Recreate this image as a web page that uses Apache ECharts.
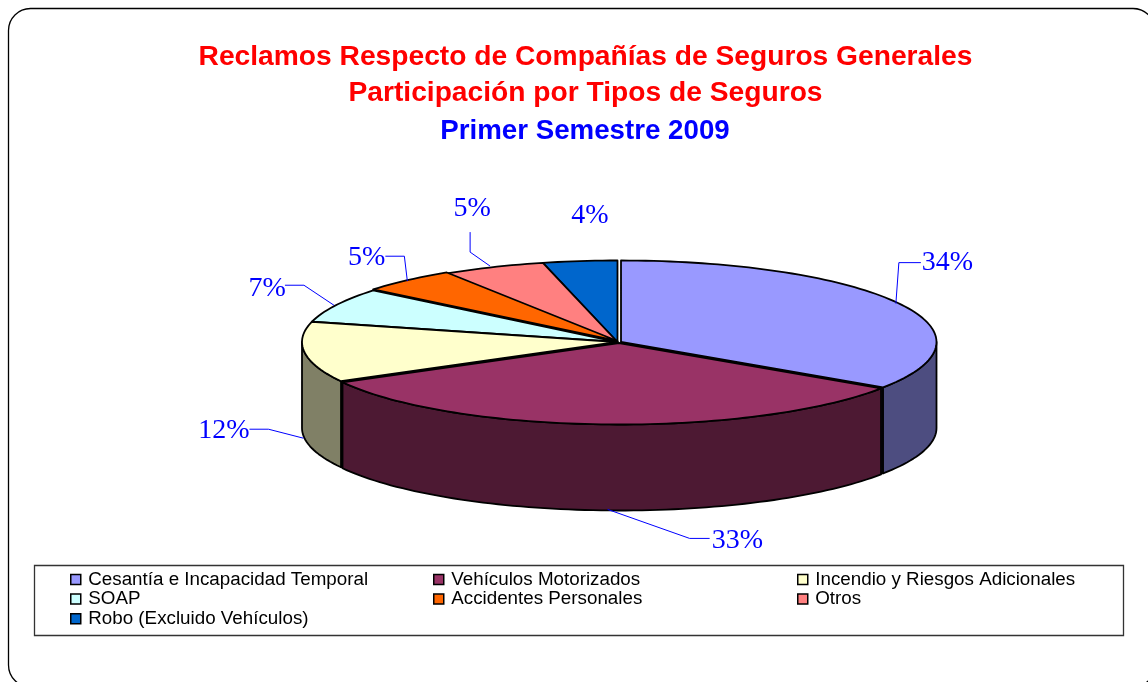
<!DOCTYPE html>
<html><head><meta charset="utf-8">
<style>html,body{margin:0;padding:0;background:#fff}#c{width:1148px;height:682px}</style>
<script src="https://cdn.jsdelivr.net/npm/echarts@6/dist/echarts.min.js"></script>
</head><body><div id="c"></div>
<script>
var categories = ['Cesantía e Incapacidad Temporal','Vehículos Motorizados','Incendio y Riesgos Adicionales','SOAP','Accidentes Personales','Otros','Robo (Excluido Vehículos)'];
var values = [34.4,32.6,12,6.9,5,5.3,3.8];
var titleLines = ['Reclamos Respecto de Compañías de Seguros Generales','Participación por Tipos de Seguros','Primer Semestre 2009'];

var topColors = ['#9999FF','#993366','#FFFFCC','#CCFFFF','#FF6600','#FF8080','#0066CC'];
var sideColors = ['#4D4D80','#4D1933','#808066','#668080','#803300','#804040','#003366'];
var drawOrder = [6,5,4,3,2,0,1];
var explode = [[3.5,0],[1.5,1],[0,0],[0,0],[0,-1],[0,0],[0,0]];
var anchorNudge = [[0,0],[4,0],[-1,0],[-2,0],[0,0],[-3,-1],[0,0]];
var leaders = [[[3,-41],[25,-41]],[[82,29],[102,29]],[[-35,-9],[-54,-9]],[[-30,-20],[-49,-20]],[[-3,-25],[-22,-25]],[[-20,-14],[-20,-34]],null];
var labelAt = [[1,0,'left','middle'],[2,2,'left','middle'],[0,1,'right','middle'],[1,3,'right','middle'],[0,1,'right','middle'],[2,-23,'center','middle'],null];
var blueLabelPos = [590,216];
var leaderOnSide = [false,true,true,false,false,false,false];
var CX=617.5, CY=342, RX=315.5, RY=81.5, DEPTH=86;

var total = values.reduce(function(a,b){return a+b;},0);
var starts = []; (function(){var s=0;values.forEach(function(v){starts.push(s);s+=v;});})();
function deg(v){return v/total*360;}
function pt(a,cx,cy){var r=a*Math.PI/180;return [cx+RX*Math.sin(r),cy-RY*Math.cos(r)];}
function arc(a0,a1,cx,cy,dy){var n=Math.max(2,Math.ceil(Math.abs(a1-a0)/1.5)),out=[];for(var i=0;i<=n;i++){var p=pt(a0+(a1-a0)*i/n,cx,cy);out.push([p[0],p[1]+(dy||0)]);}return out;}

function renderSlice(idx){
  return function(params,api){
    var val=api.value(0), a0=deg(starts[idx]), a1=a0+deg(val);
    var cx=CX+explode[idx][0], cy=CY+explode[idx][1];
    var kids=[];
    function poly(pts,fill,lw){kids.push({type:'polygon',shape:{points:pts},style:{fill:fill,stroke:'#000',lineWidth:lw,lineJoin:'round'}});}
    [a0,a1].forEach(function(a){
      var isEnd=(a===a1);
      if((isEnd&&a>90&&a<180)||(!isEnd&&a>180&&a<270)){
        var e=pt(a,cx,cy);
        poly([[cx,cy],e,[e[0],e[1]+DEPTH],[cx,cy+DEPTH]],sideColors[idx],1.6);
      }
    });
    var s0=Math.max(a0,90), s1=Math.min(a1,270);
    if(s1>s0){
      poly(arc(s0,s1,cx,cy,0).concat(arc(s1,s0,cx,cy,DEPTH)),sideColors[idx],1.8);
    }
    poly([[cx,cy]].concat(arc(a0,a1,cx,cy,0)),topColors[idx],1.8);
    var mid=(a0+a1)/2, anchor=pt(mid,CX,CY), txt=Math.round(val)+'%';
    anchor[0]+=anchorNudge[idx][0]; anchor[1]+=anchorNudge[idx][1];
    if(leaderOnSide[idx]) anchor[1]+=DEPTH;
    var lx,ly,al='center',vl='middle';
    if(leaders[idx]){
      var L=leaders[idx];
      var p1=[anchor[0]+L[0][0],anchor[1]+L[0][1]],p2=[anchor[0]+L[1][0],anchor[1]+L[1][1]];
      kids.push({type:'polyline',shape:{points:[anchor,p1,p2]},style:{fill:null,stroke:'#0000FF',lineWidth:1}});
      var la=labelAt[idx];
      lx=p2[0]+la[0]; ly=p2[1]+la[1]; al=la[2]; vl=la[3];
    } else { lx=blueLabelPos[0]; ly=blueLabelPos[1]; }
    kids.push({type:'text',style:{text:txt,x:lx,y:ly,align:al,verticalAlign:vl,fill:'#0000FF',font:'28px "Liberation Serif"'},z2:50});
    return {type:'group',children:kids};
  };
}

var series = drawOrder.map(function(idx,order){
  return {type:'custom',name:categories[idx],coordinateSystem:'none',silent:true,animation:false,z:2+order,clip:false,
    itemStyle:{color:topColors[idx]},data:[[values[idx]]],renderItem:renderSlice(idx)};
});

function legendCol(left,names){
  return {orient:'vertical',left:left,top:570,itemWidth:10,itemHeight:10,itemGap:0.6,padding:0,selectedMode:false,icon:'rect',
    data:names,itemStyle:{borderColor:'#000',borderWidth:1.5},
    textStyle:{color:'#000',fontFamily:'"Liberation Sans"',fontSize:18.8,lineHeight:14,padding:[0,0,0,2.5]}};
}

function tFont(size,color){return {fontFamily:'"Liberation Sans"',fontWeight:'bold',fontSize:size,color:color};}
var chart=echarts.init(document.getElementById('c'),null,{renderer:'canvas'});
chart.setOption({
  animation:false,backgroundColor:'#fff',
  title:[
    {text:titleLines[0],left:585.5,textAlign:'center',top:43,padding:0,textStyle:tFont(28.2,'#FF0000')},
    {text:titleLines[1],left:585.5,textAlign:'center',top:79,padding:0,textStyle:tFont(28.2,'#FF0000')},
    {text:titleLines[2],left:585,textAlign:'center',top:117,padding:0,textStyle:tFont(27.7,'#0000FF')}
  ],
  legend:[legendCol(70,[categories[0],categories[3],categories[6]]),legendCol(433,[categories[1],categories[4]]),legendCol(797,[categories[2],categories[5]])],
  graphic:[
    {type:'rect',z:0,silent:true,shape:{x:8.5,y:8.5,width:1146.5,height:678.5,r:22},style:{fill:'#fff',stroke:'#000',lineWidth:1.3}},
    {type:'rect',z:1,silent:true,shape:{x:34.5,y:565.5,width:1089,height:70},style:{fill:'#fff',stroke:'#333',lineWidth:1.3}}
  ],
  series:series
});
</script></body></html>
